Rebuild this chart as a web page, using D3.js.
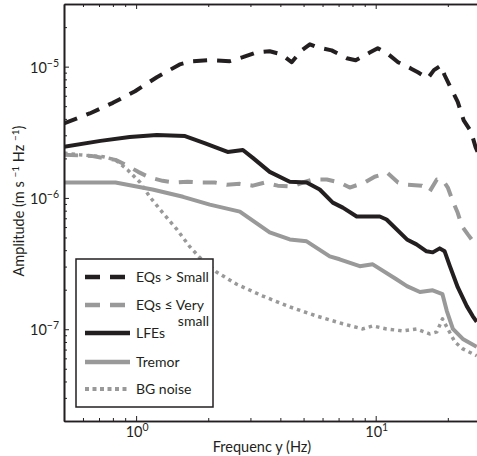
<!DOCTYPE html>
<html><head><meta charset="utf-8">
<script src="https://cdn.jsdelivr.net/npm/d3@7"></script>
<style>
body{margin:0;background:#fff}
svg{display:block}
text{font-family:Lato,"Liberation Sans",sans-serif;fill:#231f20}
</style>
</head><body>
<svg id="c" width="477" height="456"></svg>
<script>
// ---- data (frequency in Hz, amplitude in m s^-1 Hz^-1) ----
const eqSmallF = [0.5,0.64,0.80,0.99,1.22,1.52,1.71,2.03,2.46,2.79,3.16,3.61,4.05,4.46,4.91,5.31,5.73,6.55,7.57,8.25,9.44,10.2,11.3,12.4,14.0,15.0,16.5,17.5,18.7,19.4,20.6,22.0,23.3,25.0,26.1,27.7];
const eqSmallA = [3.7e-6,4.4e-6,5.3e-6,6.5e-6,8.3e-6,1.04e-5,1.10e-5,1.12e-5,1.10e-5,1.18e-5,1.28e-5,1.31e-5,1.24e-5,1.08e-5,1.33e-5,1.48e-5,1.40e-5,1.33e-5,1.16e-5,1.12e-5,1.28e-5,1.38e-5,1.24e-5,1.08e-5,9.7e-6,9.05e-6,8.15e-6,9.4e-6,1.02e-5,8.6e-6,6.85e-6,5.4e-6,3.9e-6,3.2e-6,2.45e-6,1.9e-6];

const eqVerySmallF = [0.5,0.65,0.71,0.82,0.92,1.02,1.14,1.29,1.45,1.64,1.88,2.13,2.39,2.71,3.07,3.44,3.90,4.46,4.96,5.46,6.25,7.07,7.79,9.0,9.9,11.2,12.4,13.6,15.6,16.8,18.0,19.0,20.0,21.0,22.0,22.9,24.2,26.4];
const eqVerySmallA = [2.13e-6,2.09e-6,2.03e-6,1.95e-6,1.76e-6,1.58e-6,1.43e-6,1.35e-6,1.31e-6,1.33e-6,1.31e-6,1.31e-6,1.26e-6,1.28e-6,1.24e-6,1.31e-6,1.24e-6,1.22e-6,1.31e-6,1.38e-6,1.38e-6,1.31e-6,1.20e-6,1.31e-6,1.45e-6,1.55e-6,1.31e-6,1.26e-6,1.24e-6,1.12e-6,1.38e-6,1.38e-6,1.20e-6,9.4e-7,7.7e-7,6.1e-7,5.3e-7,4.3e-7];

const lfeF = [0.5,0.71,0.94,1.22,1.60,1.93,2.41,2.79,3.07,3.61,4.38,5.15,5.84,6.62,7.29,8.33,10.4,11.1,13.5,14.8,16.3,17.3,18.5,19.4,20.4,22.0,24.0,25.4,26.4];
const lfeA = [2.45e-6,2.72e-6,2.91e-6,3.02e-6,2.96e-6,2.62e-6,2.24e-6,2.32e-6,2.02e-6,1.58e-6,1.33e-6,1.31e-6,1.16e-6,9.21e-7,8.44e-7,7.22e-7,7.22e-7,6.85e-7,4.83e-7,4.43e-7,3.92e-7,3.85e-7,4.13e-7,3.92e-7,3.02e-7,2.09e-7,1.50e-7,1.26e-7,1.14e-7];

const tremorF = [0.5,0.82,1.17,1.57,2.03,2.71,3.61,4.38,5.15,6.43,7.07,8.58,9.72,12.2,13.5,15.3,17.3,19.0,19.8,21.0,23.1,26.4];
const tremorA = [1.31e-6,1.31e-6,1.16e-6,1.02e-6,8.90e-7,7.87e-7,5.46e-7,4.83e-7,4.67e-7,3.59e-7,3.41e-7,3.02e-7,3.12e-7,2.40e-7,2.13e-7,1.92e-7,1.98e-7,1.85e-7,1.38e-7,1.005e-7,8.44e-8,7.34e-8];

const noiseF = [0.5,0.58,0.73,0.82,0.92,1.04,1.14,1.29,1.48,1.67,1.84,2.17,2.63,3.38,4.38,5.67,7.29,8.83,9.72,11.1,13.0,14.8,16.8,18.0,19.0,20.0,21.4,23.1,26.4];
const noiseA = [2.20e-6,2.13e-6,2.06e-6,1.95e-6,1.64e-6,1.31e-6,1.02e-6,7.74e-7,5.75e-7,4.28e-7,3.53e-7,2.72e-7,2.20e-7,1.79e-7,1.48e-7,1.26e-7,1.10e-7,1.005e-7,1.06e-7,1.005e-7,9.70e-8,1.005e-7,9.21e-8,9.54e-8,1.20e-7,1.005e-7,8.01e-8,7.09e-8,6.28e-8];

const seriesNames = ["EQs > Small","EQs \u2264 Very small","LFEs","Tremor","BG noise"];
const xTickExps = [0,1];
const yTickExps = [-7,-6,-5];
const xLabel = "Frequenc y (Hz)";

// ---- chart ----
const BLACK="#231f20", GRAY="#999999";
const FS=14.5, LFS=14;
const svg=d3.select("#c");
const L=64,T=4,B=421,R=490;
const x=d3.scaleLog().domain([0.5,30]).range([L,R]);
const y=d3.scaleLog().domain([2e-8,3e-5]).range([B,T]);

svg.append("rect").attr("width",477).attr("height",456).attr("fill","#fff");
svg.append("defs").append("clipPath").attr("id","clip").append("rect")
  .attr("x",L).attr("y",T).attr("width",R-L).attr("height",B-T);

const series=[
  {f:eqSmallF,a:eqSmallA,color:BLACK,dash:"14,10",w:4},
  {f:eqVerySmallF,a:eqVerySmallA,color:GRAY,dash:"14,10",w:4},
  {f:lfeF,a:lfeA,color:BLACK,dash:null,w:4},
  {f:tremorF,a:tremorA,color:GRAY,dash:null,w:4},
  {f:noiseF,a:noiseA,color:GRAY,dash:"3.5,4",w:3.5}
];
const line=d3.line().x(d=>x(d[0])).y(d=>y(d[1]));
const gl=svg.append("g").attr("clip-path","url(#clip)");
series.forEach(s=>{
  gl.append("path").datum(s.f.map((f,i)=>[f,s.a[i]]))
    .attr("d",line).attr("fill","none").attr("stroke",s.color)
    .attr("stroke-width",s.w).attr("stroke-linejoin","round")
    .attr("stroke-dasharray",s.dash);
});

// axes
const xMajor=xTickExps.map(e=>Math.pow(10,e));
const xMinor=[0.6,0.7,0.8,0.9,2,3,4,5,6,7,8,9,20];
const yMajor=yTickExps.map(e=>Math.pow(10,e));
const yMinor=[];
[-8,-7,-6,-5].forEach(e=>{for(let k=2;k<=9;k++){const v=k*Math.pow(10,e);if(v>=2e-8&&v<=3e-5)yMinor.push(v);}});

function styleAxis(g){g.select(".domain").attr("stroke",BLACK).attr("stroke-width",1.6);
  g.selectAll(".tick line").attr("stroke",BLACK).attr("stroke-width",1);g.selectAll(".tick text").remove();}
svg.append("g").attr("transform",`translate(0,${B})`).call(d3.axisBottom(x).tickValues(xMajor).tickSizeInner(-5).tickSizeOuter(0)).call(styleAxis);
svg.append("g").attr("transform",`translate(0,${B})`).call(d3.axisBottom(x).tickValues(xMinor).tickSizeInner(-3).tickSizeOuter(0)).call(styleAxis);
svg.append("g").attr("transform",`translate(0,${T})`).call(d3.axisTop(x).tickValues(xMajor).tickSizeInner(-5).tickSizeOuter(0)).call(styleAxis);
svg.append("g").attr("transform",`translate(0,${T})`).call(d3.axisTop(x).tickValues(xMinor).tickSizeInner(-3).tickSizeOuter(0)).call(styleAxis);
svg.append("g").attr("transform",`translate(${L},0)`).call(d3.axisLeft(y).tickValues(yMajor).tickSizeInner(-5).tickSizeOuter(0)).call(styleAxis);
svg.append("g").attr("transform",`translate(${L},0)`).call(d3.axisLeft(y).tickValues(yMinor).tickSizeInner(-3).tickSizeOuter(0)).call(styleAxis);

// tick labels
xTickExps.forEach(e=>{
  const t=svg.append("text").attr("x",x(Math.pow(10,e))+1).attr("y",437).attr("text-anchor","middle").attr("font-size",14.5);
  t.append("tspan").text("10");
  t.append("tspan").attr("dy",-6).attr("font-size",10.5).text(String(e));
});
yTickExps.forEach(e=>{
  const t=svg.append("text").attr("x",59).attr("y",y(Math.pow(10,e))+6).attr("text-anchor","end").attr("font-size",14.5);
  t.append("tspan").text("10");
  t.append("tspan").attr("dy",-6).attr("font-size",10.5).text("\u2212"+Math.abs(e));
});

// axis labels
svg.append("text").attr("x",262).attr("y",452).attr("text-anchor","middle").attr("font-size",FS).text(xLabel);
const yl=svg.append("text").attr("transform","translate(24,201) rotate(-90)").attr("text-anchor","middle").attr("font-size",FS);
yl.append("tspan").text("Amplitude (m s ");
yl.append("tspan").attr("dy",-5).attr("font-size",10).text("\u22121");
yl.append("tspan").attr("dy",5).text(" Hz ");
yl.append("tspan").attr("dy",-5).attr("font-size",10).text("\u22121");
yl.append("tspan").attr("dy",5).text(")");

// legend
const lg=svg.append("g");
lg.append("rect").attr("x",76).attr("y",259).attr("width",137).attr("height",148)
  .attr("fill","#fff").attr("stroke",BLACK).attr("stroke-width",1.5);
const rowsY=[277,305,333,362,389];
series.forEach((s,i)=>{
  lg.append("line").attr("x1",85).attr("x2",130).attr("y1",rowsY[i]).attr("y2",rowsY[i])
    .attr("stroke",s.color).attr("stroke-width",s.w+0.5).attr("stroke-dasharray",s.dash? (i<2?"15,10":"4,3.5"):null);
});
seriesNames.forEach((n,i)=>{
  if(i===1){
    const parts=n.split(" ");
    lg.append("text").attr("x",136).attr("y",rowsY[i]+5).attr("font-size",LFS).text(parts.slice(0,3).join(" "));
    lg.append("text").attr("x",209).attr("y",rowsY[i]+21).attr("text-anchor","end").attr("font-size",LFS).text(parts[3]);
  } else {
    lg.append("text").attr("x",136).attr("y",rowsY[i]+5).attr("font-size",LFS).text(n);
  }
});
</script>
</body></html>
